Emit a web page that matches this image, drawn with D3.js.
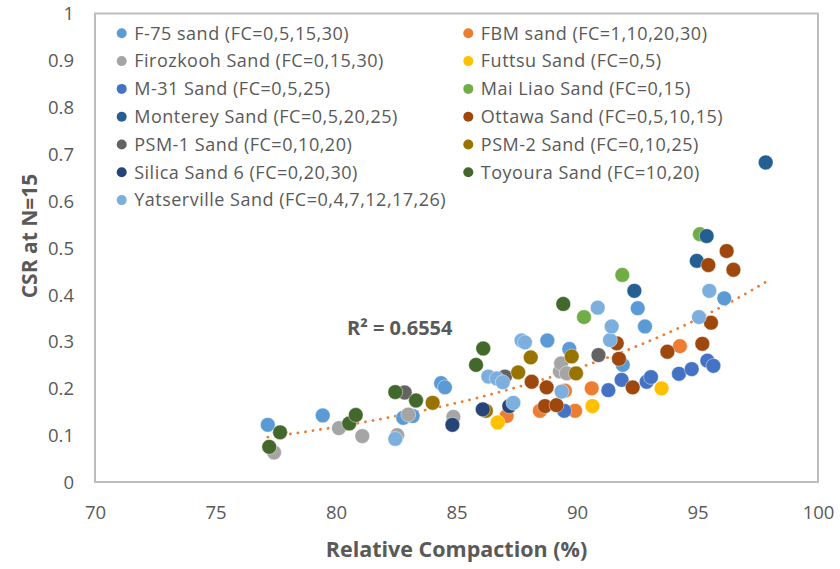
<!DOCTYPE html>
<html>
<head>
<meta charset="utf-8">
<script src="https://cdn.jsdelivr.net/npm/d3@7"></script>
<style>
  html, body { margin: 0; padding: 0; background: #fff; }
  svg { display: block; font-family: "Open Sans", Lato, sans-serif; }
</style>
</head>
<body>
<svg id="chart" width="840" height="569"></svg>
<script>
// Axis ticks
const xTicks = [70, 75, 80, 85, 90, 95, 100];
const yTicks = [0, 0.1, 0.2, 0.3, 0.4, 0.5, 0.6, 0.7, 0.8, 0.9, 1];

// Series: [relative compaction (%), CSR at N=15]
const f75 = [[77.17,0.122],[79.45,0.142],[82.79,0.137],[83.18,0.141],[84.36,0.211],[84.52,0.202],
             [88.77,0.302],[89.68,0.284],[91.9,0.25],[92.52,0.371],[92.82,0.332],[96.11,0.392]];
const fbm = [[87.08,0.141],[88.46,0.152],[89.5,0.195],[89.92,0.152],[90.61,0.2],[94.27,0.29]];
const firozkooh = [[77.43,0.063],[80.12,0.115],[81.09,0.098],[82.54,0.1],[83.0,0.144],[84.87,0.139],
                   [89.29,0.236],[89.34,0.253],[89.57,0.232]];
const futtsu = [[86.71,0.127],[90.64,0.162],[93.51,0.2]];
const m31 = [[89.47,0.152],[91.3,0.196],[91.85,0.218],[92.89,0.214],[93.07,0.224],[94.23,0.231],
             [94.76,0.241],[95.41,0.259],[95.66,0.248]];
const maiLiao = [[90.29,0.352],[91.88,0.442],[95.1,0.529]];
const monterey = [[92.38,0.408],[94.97,0.472],[95.38,0.525],[97.83,0.682]];
const ottawa = [[88.12,0.214],[88.67,0.162],[88.74,0.202],[89.15,0.164],[91.65,0.296],[91.74,0.263],
                [92.31,0.202],[93.75,0.278],[95.2,0.295],[95.45,0.463],[95.56,0.34],[96.21,0.493],[96.49,0.453]];
const psm1 = [[82.85,0.191],[87.01,0.225],[90.89,0.271]];
const psm2 = [[84.01,0.169],[86.22,0.152],[87.56,0.234],[88.08,0.266],[89.78,0.268],[89.96,0.232]];
const silica6 = [[84.83,0.122],[86.09,0.155],[87.19,0.162]];
const toyoura = [[77.23,0.075],[77.68,0.106],[80.55,0.125],[80.82,0.143],[82.46,0.192],[83.32,0.174],
                 [85.81,0.25],[86.11,0.285],[89.43,0.38]];
const yatserville = [[82.46,0.092],[86.32,0.225],[86.67,0.221],[86.92,0.213],[87.36,0.169],[87.7,0.302],
                     [87.84,0.298],[89.36,0.193],[90.86,0.372],[91.37,0.303],[91.44,0.332],[95.06,0.352],[95.49,0.408]];

const seriesNames = [
  "F-75 sand (FC=0,5,15,30)", "FBM sand (FC=1,10,20,30)",
  "Firozkooh Sand (FC=0,15,30)", "Futtsu Sand (FC=0,5)",
  "M-31 Sand (FC=0,5,25)", "Mai Liao Sand (FC=0,15)",
  "Monterey Sand (FC=0,5,20,25)", "Ottawa Sand (FC=0,5,10,15)",
  "PSM-1 Sand (FC=0,10,20)", "PSM-2 Sand (FC=0,10,25)",
  "Silica Sand 6 (FC=0,20,30)", "Toyoura Sand (FC=10,20)",
  "Yatserville Sand (FC=0,4,7,12,17,26)"
];
const seriesColors = [
  "#5B9BD5", "#ED7D31", "#A5A5A5", "#FFC000", "#4472C4", "#70AD47",
  "#255E91", "#9E480E", "#636363", "#997300", "#264478", "#43682B", "#7CAFDD"
];
const seriesData = [f75, fbm, firozkooh, futtsu, m31, maiLiao, monterey, ottawa,
                    psm1, psm2, silica6, toyoura, yatserville];

// Exponential trend y = a·e^(b·x) and its fit statistic
const trendA = 3.60e-4;
const trendB = 0.07235;
const rSquaredLabel = "R² = 0.6554";

const svg = d3.select("#chart");
const textColor = "#595959";
const plot = { left: 95, right: 818, top: 13.5, bottom: 482 };

const x = d3.scaleLinear().domain([70, 100]).range([plot.left, plot.right]);
const y = d3.scaleLinear().domain([0, 1]).range([plot.bottom, plot.top]);

// Plot area border
svg.append("rect")
  .attr("x", plot.left).attr("y", plot.top)
  .attr("width", plot.right - plot.left).attr("height", plot.bottom - plot.top)
  .attr("fill", "none").attr("stroke", "#BDBDBD").attr("stroke-width", 2);

// Axes (labels only, no tick marks or domain line)
const xAxis = svg.append("g")
  .attr("transform", `translate(0,${plot.bottom})`)
  .call(d3.axisBottom(x).tickValues(xTicks).tickSize(0).tickPadding(0).tickFormat(d3.format("d")));
xAxis.select(".domain").remove();
xAxis.selectAll("text")
  .attr("y", 37).attr("dy", null)
  .attr("fill", textColor).style("font-size", "18.5px").style("font-family", "'Open Sans', sans-serif");

const yAxis = svg.append("g")
  .attr("transform", `translate(${plot.left},0)`)
  .call(d3.axisLeft(y).tickValues(yTicks).tickSize(0).tickFormat(d => String(+d.toFixed(1))));
yAxis.select(".domain").remove();
yAxis.selectAll("text")
  .attr("x", -21).attr("dy", "0.35em")
  .attr("fill", textColor).style("font-size", "18.5px").style("font-family", "'Open Sans', sans-serif");

// Axis titles
svg.append("text")
  .attr("x", (plot.left + plot.right) / 2).attr("y", 557)
  .attr("text-anchor", "middle").attr("fill", textColor)
  .style("font-size", "21.5px").style("font-weight", "bold")
  .text("Relative Compaction (%)");

svg.append("text")
  .attr("transform", "translate(37,236) rotate(-90)")
  .attr("text-anchor", "middle").attr("fill", textColor)
  .style("font-size", "21px").style("font-weight", "bold")
  .text("CSR at N=15");

// Trend line across the span of the data
const [xMin, xMax] = d3.extent(seriesData.flat(), p => p[0]);
const trendPts = d3.range(0, 101).map(i => {
  const xv = xMin + (xMax - xMin) * i / 100;
  return [xv, trendA * Math.exp(trendB * xv)];
});
svg.append("path")
  .datum(trendPts)
  .attr("d", d3.line().x(d => x(d[0])).y(d => y(d[1])))
  .attr("fill", "none").attr("stroke", "#ED7D31")
  .attr("stroke-width", 2.8).attr("stroke-linecap", "round")
  .attr("stroke-dasharray", "0.1 7.5");

// Markers, series drawn in legend order
seriesData.forEach((data, i) => {
  svg.append("g").selectAll("circle")
    .data(data).join("circle")
    .attr("cx", d => x(d[0])).attr("cy", d => y(d[1]))
    .attr("r", 7.4)
    .attr("fill", seriesColors[i])
    .attr("stroke", "#ffffff").attr("stroke-opacity", 0.55).attr("stroke-width", 0.8);
});

// R² label
svg.append("text")
  .attr("x", 347).attr("y", 335)
  .attr("fill", textColor)
  .style("font-size", "20px").style("font-weight", "bold")
  .text(rSquaredLabel);

// Legend: two columns
const legend = svg.append("g");
seriesNames.forEach((name, i) => {
  const col = i % 2, row = Math.floor(i / 2);
  const mxp = col === 0 ? 121.7 : 468.3;
  const cy = 33.3 + row * 27.8;
  legend.append("circle")
    .attr("cx", mxp).attr("cy", cy).attr("r", 5)
    .attr("fill", seriesColors[i]);
  legend.append("text")
    .attr("x", mxp + 12.5).attr("y", cy).attr("dy", "0.35em")
    .attr("fill", textColor).style("font-size", "18px").style("letter-spacing", "0.5px")
    .text(name);
});
</script>
</body>
</html>
